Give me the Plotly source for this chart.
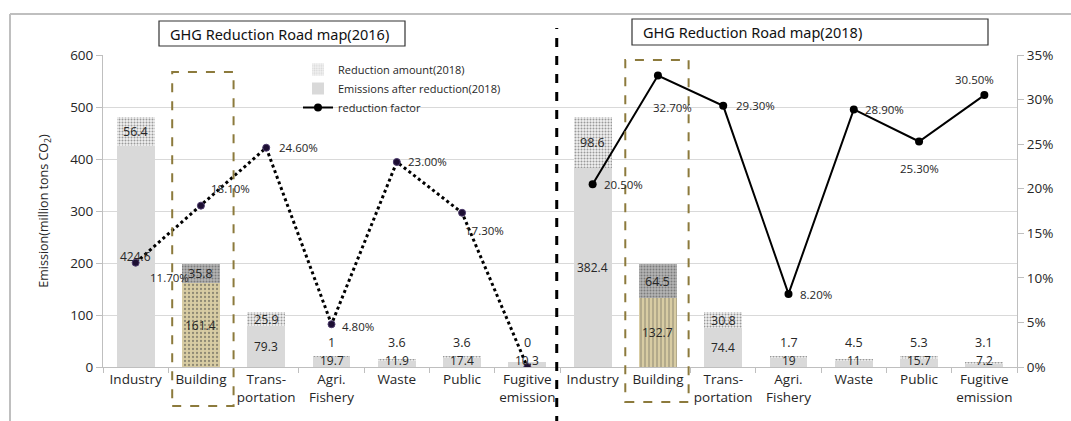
import plotly.graph_objects as go

# ---------------- data ----------------
categories = ["Industry", "Building", "Trans-<br>portation", "Agri.<br>Fishery",
              "Waste", "Public", "Fugitive<br>emission"]
emis_2016 = [424.6, 161.4, 79.3, 19.7, 11.9, 17.4, 10.3]
red_2016 = [56.4, 35.8, 25.9, 1, 3.6, 3.6, 0]
factor_2016 = [11.7, 18.1, 24.6, 4.8, 23.0, 17.3, 0]
emis_2018 = [382.4, 132.7, 74.4, 19, 11, 15.7, 7.2]
red_2018 = [98.6, 64.5, 30.8, 1.7, 4.5, 5.3, 3.1]
factor_2018 = [20.5, 32.7, 29.3, 8.2, 28.9, 25.3, 30.5]
titles = ["GHG Reduction Road map(2016)", "GHG Reduction Road map(2018)"]

# ---------------- layout helpers ----------------
W, H = 1071, 421
L, R, T, B = 103, 1017, 55, 367


def px2x(p):
    return (p - L) / (R - L)


def px2y(p):
    return (B - p) / (B - T)


n = len(categories)
xs = list(range(2 * n))
ticktext = categories + categories
emis = emis_2016 + emis_2018
red = red_2016 + red_2018
building = [1, n + 1]
px_per_unit = (B - T) / 600

FONT = "Open Sans"
TXT = "#262626"

gray = "#d9d9d9"
emis_colors = [gray] * (2 * n)
emis_shape = [""] * (2 * n)
emis_fg = [gray] * (2 * n)
red_colors = ["#f0f0f0"] * (2 * n)
red_fg = ["#bababa"] * (2 * n)
for b in building:
    emis_colors[b] = "#d8cca3"
    emis_shape[b] = "." if b < n else "|"
    emis_fg[b] = "#c4b47f"
    red_colors[b] = "#b4b4b4"
    red_fg[b] = "#8e8e8e"

fig = go.Figure()

fig.add_trace(go.Bar(
    x=xs, y=emis, name="Emissions after reduction(2018)", width=0.58,
    marker=dict(color=emis_colors, line=dict(width=0),
                pattern=dict(shape=emis_shape, fgcolor=emis_fg,
                             size=4, solidity=0.25, fillmode="overlay")),
    legendrank=2, hoverinfo="skip"))

fig.add_trace(go.Bar(
    x=xs, y=red, name="Reduction amount(2018)", width=0.58,
    marker=dict(color=red_colors, line=dict(width=0),
                pattern=dict(shape=".", fgcolor=red_fg,
                             size=3, solidity=0.35, fillmode="overlay")),
    legendrank=1, hoverinfo="skip"))

fig.add_trace(go.Scatter(
    x=xs[:n], y=[v / 100 for v in factor_2016], yaxis="y2", mode="lines+markers",
    line=dict(color="black", width=3, dash="dot"),
    marker=dict(color="#1d0f33", size=7, line=dict(color="#4b3a6b", width=1)),
    showlegend=False, hoverinfo="skip"))

fig.add_trace(go.Scatter(
    x=xs[n:], y=[v / 100 for v in factor_2018], yaxis="y2", mode="lines+markers",
    name="reduction factor",
    line=dict(color="black", width=2),
    marker=dict(color="black", size=8),
    legendrank=3, hoverinfo="skip"))

annotations = []

# percentage labels (offsets of label centre from the point, in px)
offs = [(34, 15), (30, -17), (32, 0), (26, 2), (31, 0), (22, 18), None,
        (31, 0), (15, 32), (32, 0), (27, 1), (31, 0), (0, 27), (-10, -16)]
factors = factor_2016 + factor_2018
for i, (v, o) in enumerate(zip(factors, offs)):
    if o is None:
        continue
    annotations.append(dict(x=i, y=v / 100, yref="y2", text=f"{v:.2f}%", showarrow=False,
                            xshift=o[0], yshift=-o[1],
                            font=dict(size=11.5, color=TXT, family=FONT)))

# bar value labels
for i in xs:
    e, r = emis[i], red[i]
    tot = e + r
    if tot >= 60:
        annotations.append(dict(x=i, y=e / 2, yref="y", text=f"{e:g}", showarrow=False,
                                font=dict(size=12, color=TXT, family=FONT)))
        annotations.append(dict(x=i, y=e + r / 2, yref="y", text=f"{r:g}", showarrow=False,
                                font=dict(size=12.5, color=TXT, family=FONT)))
    else:
        annotations.append(dict(x=i, y=0, yref="y", text=f"{e:g}", showarrow=False,
                                yanchor="bottom", yshift=-4,
                                font=dict(size=12, color=TXT, family=FONT)))
        s = max(3, 14 - tot * px_per_unit)
        annotations.append(dict(x=i, y=tot, yref="y", text=f"{r:g}", showarrow=False,
                                yanchor="bottom", yshift=s,
                                font=dict(size=12.5, color=TXT, family=FONT)))

# title boxes
boxes = [(159, 405, 21, 46), (632, 988, 19, 45)]
shapes = []
for (x0, x1, y0, y1), t in zip(boxes, titles):
    shapes.append(dict(type="rect", xref="paper", yref="paper",
                       x0=px2x(x0), x1=px2x(x1), y0=px2y(y1), y1=px2y(y0),
                       line=dict(color="#333333", width=1.2), fillcolor="white"))
    annotations.append(dict(xref="paper", yref="paper", x=px2x(x0 + 9), y=px2y((y0 + y1) / 2),
                            xanchor="left", yanchor="middle", text=t, showarrow=False,
                            font=dict(size=14.5, color="#111111", family="Noto Sans")))

# outer frame (top and left edges)
shapes.append(dict(type="line", xref="paper", yref="paper", x0=px2x(10), x1=px2x(1075),
                   y0=px2y(14), y1=px2y(14), line=dict(color="#bfbfbf", width=2)))
shapes.append(dict(type="line", xref="paper", yref="paper", x0=px2x(10), x1=px2x(10),
                   y0=px2y(14), y1=px2y(425), line=dict(color="#bfbfbf", width=2)))

# dashed building boxes
for b, (dl, dr, top, bot) in zip(building, [(0.44, 0.5, 72, 406), (0.5, 0.47, 60, 402)]):
    shapes.append(dict(type="rect", xref="x", yref="paper", x0=b - dl, x1=b + dr,
                       y0=px2y(bot), y1=px2y(top),
                       line=dict(color="#8c7a3c", width=2, dash="dash")))

# dividing dashed line
shapes.append(dict(type="line", xref="x", yref="paper", x0=n - 0.55, x1=n - 0.55,
                   y0=px2y(425), y1=px2y(28), line=dict(color="black", width=3, dash="dash")))

fig.update_layout(
    width=W, height=H,
    margin=dict(l=L, r=W - R, t=T, b=H - B, pad=0),
    paper_bgcolor="white", plot_bgcolor="white",
    barmode="stack",
    font=dict(family=FONT, color="#404040"),
    showlegend=True,
    legend=dict(x=px2x(298), y=px2y(55), xanchor="left", yanchor="top",
                bgcolor="rgba(255,255,255,0)", traceorder="normal",
                font=dict(size=11, color=TXT, family=FONT),
                tracegroupgap=0, itemwidth=30),
    xaxis=dict(range=[-0.5, 2 * n - 0.5], tickvals=xs, ticktext=ticktext,
               showgrid=False, zeroline=False,
               showline=True, linecolor="#bfbfbf", linewidth=1,
               ticks="", tickfont=dict(size=13.5, color="#262626", family=FONT),
               minor=dict(ticks="outside", tick0=-0.5, dtick=1, ticklen=5,
                          tickcolor="#bfbfbf", showgrid=False)),
    yaxis=dict(range=[0, 600], dtick=100, showgrid=True, gridcolor="#d9d9d9",
               zeroline=False, showline=True, linecolor="#bfbfbf",
               ticks="outside", ticklen=6, tickcolor="#bfbfbf",
               tickfont=dict(size=13.5, color="#262626", family=FONT),
               title=dict(text="Emission(million tons CO<sub>2</sub>)",
                          font=dict(size=12.5, color="#262626", family=FONT), standoff=18)),
    yaxis2=dict(range=[0, 0.35], dtick=0.05, tickformat=".0%", overlaying="y",
                side="right", showgrid=False, zeroline=False, showline=True,
                linecolor="#bfbfbf", ticks="outside", ticklen=6, tickcolor="#bfbfbf",
                tickfont=dict(size=13.5, color="#262626", family=FONT)),
    shapes=shapes,
    annotations=annotations,
)

fig.write_html("out.html", config={"displayModeBar": False},
               post_script="document.body.style.margin='0';document.body.style.overflow='hidden';")
